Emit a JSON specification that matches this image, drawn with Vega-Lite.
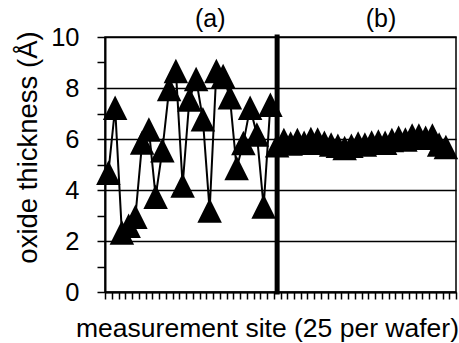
{
  "$schema": "https://vega.github.io/schema/vega-lite/v6.json",
  "width": 351,
  "height": 255,
  "autosize": {"type": "none"},
  "padding": {"left": 105, "top": 37, "right": 3, "bottom": 51},
  "background": "white",
  "config": {
    "font": "Liberation Sans",
    "view": {"stroke": "black", "strokeWidth": 1.5}
  },
  "datasets": {
    "pts": [
      {"site": 0.5, "thickness": 4.68, "wafer": "a"},
      {"site": 1.5, "thickness": 7.23, "wafer": "a"},
      {"site": 2.5, "thickness": 2.33, "wafer": "a"},
      {"site": 3.5, "thickness": 2.6, "wafer": "a"},
      {"site": 4.5, "thickness": 2.95, "wafer": "a"},
      {"site": 5.5, "thickness": 5.86, "wafer": "a"},
      {"site": 6.5, "thickness": 6.37, "wafer": "a"},
      {"site": 7.5, "thickness": 3.74, "wafer": "a"},
      {"site": 8.5, "thickness": 5.56, "wafer": "a"},
      {"site": 9.5, "thickness": 7.96, "wafer": "a"},
      {"site": 10.5, "thickness": 8.67, "wafer": "a"},
      {"site": 11.5, "thickness": 4.18, "wafer": "a"},
      {"site": 12.5, "thickness": 7.55, "wafer": "a"},
      {"site": 13.5, "thickness": 8.35, "wafer": "a"},
      {"site": 14.5, "thickness": 6.77, "wafer": "a"},
      {"site": 15.5, "thickness": 3.2, "wafer": "a"},
      {"site": 16.5, "thickness": 8.67, "wafer": "a"},
      {"site": 17.5, "thickness": 8.47, "wafer": "a"},
      {"site": 18.5, "thickness": 7.64, "wafer": "a"},
      {"site": 19.5, "thickness": 4.86, "wafer": "a"},
      {"site": 20.5, "thickness": 5.84, "wafer": "a"},
      {"site": 21.5, "thickness": 7.23, "wafer": "a"},
      {"site": 22.5, "thickness": 6.18, "wafer": "a"},
      {"site": 23.5, "thickness": 3.35, "wafer": "a"},
      {"site": 24.5, "thickness": 7.34, "wafer": "a"},
      {"site": 25.5, "thickness": 5.75, "wafer": "b"},
      {"site": 26.5, "thickness": 5.96, "wafer": "b"},
      {"site": 27.5, "thickness": 5.82, "wafer": "b"},
      {"site": 28.5, "thickness": 5.96, "wafer": "b"},
      {"site": 29.5, "thickness": 5.85, "wafer": "b"},
      {"site": 30.5, "thickness": 6.0, "wafer": "b"},
      {"site": 31.5, "thickness": 5.98, "wafer": "b"},
      {"site": 32.5, "thickness": 5.85, "wafer": "b"},
      {"site": 33.5, "thickness": 5.78, "wafer": "b"},
      {"site": 34.5, "thickness": 5.74, "wafer": "b"},
      {"site": 35.5, "thickness": 5.65, "wafer": "b"},
      {"site": 36.5, "thickness": 5.74, "wafer": "b"},
      {"site": 37.5, "thickness": 5.82, "wafer": "b"},
      {"site": 38.5, "thickness": 5.78, "wafer": "b"},
      {"site": 39.5, "thickness": 5.86, "wafer": "b"},
      {"site": 40.5, "thickness": 5.9, "wafer": "b"},
      {"site": 41.5, "thickness": 5.85, "wafer": "b"},
      {"site": 42.5, "thickness": 5.96, "wafer": "b"},
      {"site": 43.5, "thickness": 6.05, "wafer": "b"},
      {"site": 44.5, "thickness": 5.98, "wafer": "b"},
      {"site": 45.5, "thickness": 6.14, "wafer": "b"},
      {"site": 46.5, "thickness": 6.14, "wafer": "b"},
      {"site": 47.5, "thickness": 6.05, "wafer": "b"},
      {"site": 48.5, "thickness": 6.14, "wafer": "b"},
      {"site": 49.5, "thickness": 5.78, "wafer": "b"},
      {"site": 50.5, "thickness": 5.69, "wafer": "b"}
    ],
    "divider": [{"site": 25.5}],
    "panels": [
      {"site": 15.6, "thickness": 10, "label": "(a)"},
      {"site": 40.9, "thickness": 10, "label": "(b)"}
    ]
  },
  "encoding": {
    "x": {
      "field": "site",
      "type": "quantitative",
      "scale": {"domain": [0, 52], "nice": false, "zero": false},
      "axis": {
        "values": [0,1,2,3,4,5,6,7,8,9,10,11,12,13,14,15,16,17,18,19,20,21,22,23,24,25,26,27,28,29,30,31,32,33,34,35,36,37,38,39,40,41,42,43,44,45,46,47,48,49,50,51,52],
        "labels": false,
        "grid": false,
        "ticks": true,
        "tickRound": true,
        "tickSize": 7,
        "tickWidth": 1.5,
        "tickColor": "black",
        "domainColor": "black",
        "domainWidth": 2,
        "title": "measurement site (25 per wafer)",
        "titleFont": "Liberation Sans",
        "titleFontSize": 26.5,
        "titleFontWeight": "normal",
        "titleColor": "black",
        "titleX": 162,
        "titleY": 36,
        "titleBaseline": "middle",
        "titleAlign": "center"
      }
    },
    "y": {
      "field": "thickness",
      "type": "quantitative",
      "scale": {"domain": [0, 10], "nice": false, "zero": true},
      "axis": {
        "values": [0,1,2,3,4,5,6,7,8,9,10],
        "labelExpr": "datum.value % 2 === 0 ? datum.label : ''",
        "labelFont": "Liberation Sans",
        "labelFontSize": 25.5,
        "labelColor": "black",
        "labelPadding": 18,
        "tickSize": 8,
        "tickWidth": 1.5,
        "tickRound": true,
        "tickColor": "black",
        "domainColor": "black",
        "domainWidth": 2,
        "grid": true,
        "gridColor": "black",
        "gridWidth": 1.3,
        "gridOpacity": {"condition": {"test": "datum.value % 2 === 1", "value": 0}, "value": 1},
        "title": "oxide thickness (Å)",
        "titleFont": "Liberation Sans",
        "titleFontSize": 27.5,
        "titleFontWeight": "normal",
        "titleColor": "black",
        "titleAngle": 270,
        "titleX": -77,
        "titleY": 110,
        "titleBaseline": "middle",
        "titleAlign": "center"
      }
    }
  },
  "layer": [
    {
      "data": {"name": "pts"},
      "mark": {"type": "line", "color": "black", "strokeWidth": 2},
      "encoding": {
        "detail": {"field": "wafer"}
      }
    },
    {
      "data": {"name": "pts"},
      "mark": {"type": "point", "shape": "M-1,1H1L0,-1Z", "filled": true, "color": "black", "opacity": 1, "size": 600}
    },
    {
      "data": {"name": "divider"},
      "mark": {"type": "rule", "color": "black", "strokeWidth": 5, "strokeCap": "square"},
      "encoding": {
        "y": null
      }
    },
    {
      "data": {"name": "panels"},
      "mark": {"type": "text", "font": "Liberation Sans", "fontSize": 25, "color": "black", "baseline": "alphabetic", "align": "center", "dy": -10, "clip": false},
      "encoding": {
        "text": {"field": "label"}
      }
    }
  ]
}
